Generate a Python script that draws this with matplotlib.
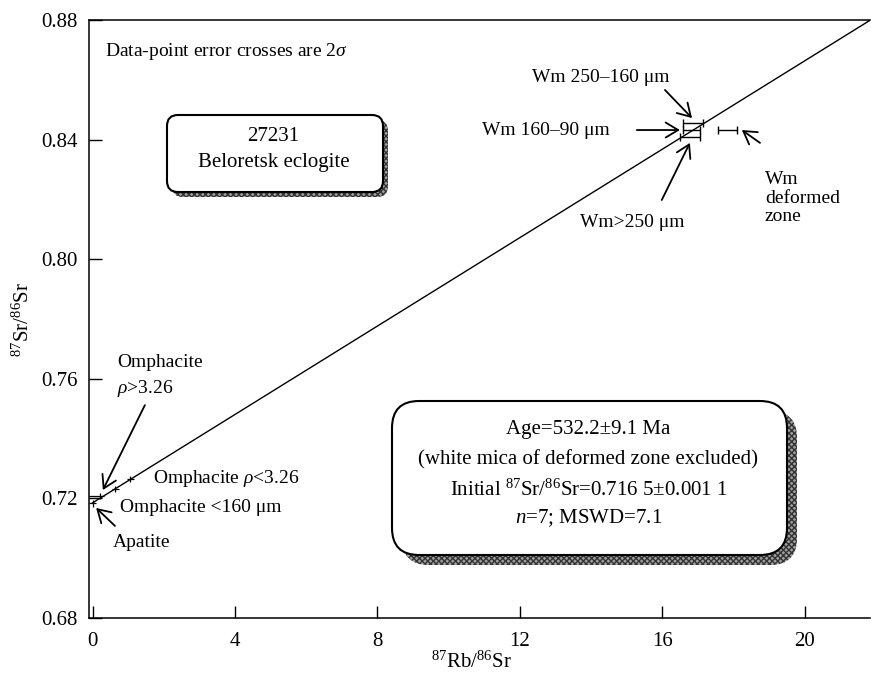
import numpy as np
import matplotlib
matplotlib.use('Agg')
import matplotlib.pyplot as plt
from matplotlib.patches import FancyBboxPatch

plt.rcParams['font.family'] = ['Liberation Serif', 'DejaVu Serif']
plt.rcParams['mathtext.fontset'] = 'custom'
plt.rcParams['mathtext.rm'] = 'Liberation Serif'
plt.rcParams['mathtext.it'] = 'Liberation Serif:italic'

# === data ===
# low-Rb phases (apatite + omphacite), error crosses
low_names = ['Apatite', 'Omphacite <160 μm', 'Omphacite ρ>3.26', 'Omphacite ρ<3.26']
low_rb = [0.00, 0.22, 0.64, 1.06]
low_sr = [0.7183, 0.7208, 0.7231, 0.7265]
low_xerr_lo = [0.10, 0.32, 0.10, 0.10]
low_xerr_hi = [0.10, 0.10, 0.10, 0.10]
low_yerr = [0.0011, 0.0011, 0.0011, 0.0011]

# white mica fractions
wm_names = ['Wm>250 μm', 'Wm 160–90 μm', 'Wm 250–160 μm']
wm_rb = [16.78, 16.83, 16.87]
wm_sr = [0.8409, 0.8432, 0.8456]
wm_xerr = [0.28, 0.24, 0.28]

# white mica of deformed zone (excluded from the fit)
def_rb = [17.84]
def_sr = [0.8432]
def_xerr = [0.27]

# isochron as drawn
iso_intercept = 0.7185
iso_slope = 0.00739

x_ticks = [0, 4, 8, 12, 16, 20]
y_ticks = [0.68, 0.72, 0.76, 0.80, 0.84, 0.88]

FS = 15      # ticks, axis labels, boxes
FA = 14      # free annotations

fig = plt.figure(figsize=(8.71, 6.80), dpi=100)
ax = fig.add_axes([89/871, 62/680, 781/871, 598/680])

# isochron line
xl = np.array([0, 23])
ax.plot(xl, iso_intercept + iso_slope*xl, color='k', lw=1.0, zorder=2)

# data points
ax.errorbar(low_rb, low_sr, xerr=[low_xerr_lo, low_xerr_hi], yerr=low_yerr,
            fmt='none', ecolor='k', elinewidth=0.9, capsize=0, zorder=3)
ax.errorbar(wm_rb, wm_sr, xerr=wm_xerr, fmt='none', ecolor='k',
            elinewidth=1.0, capsize=3, capthick=1.0, zorder=3)
ax.errorbar(def_rb, def_sr, xerr=def_xerr, fmt='none', ecolor='k',
            elinewidth=1.0, capsize=3, capthick=1.0, zorder=3)

ax.set_xlim(-0.1, 21.84)
ax.set_ylim(0.68, 0.88)
ax.set_xticks(x_ticks)
ax.set_yticks(y_ticks)
ax.set_xticklabels([str(t) for t in x_ticks])
ax.set_yticklabels([f'{t:.2f}' for t in y_ticks])
ax.tick_params(axis='both', direction='in', length=9, width=1.0, labelsize=FS)
ax.tick_params(axis='x', pad=10)
ax.tick_params(axis='y', pad=8)
for s in ['left', 'bottom', 'top']:
    ax.spines[s].set_linewidth(1.1)
ax.spines['right'].set_visible(False)

ax.set_xlabel(r'$^{87}$Rb/$^{86}$Sr', fontsize=FS)
ax.set_ylabel(r'$^{87}$Sr/$^{86}$Sr', fontsize=FS)
ax.xaxis.set_label_coords(0.49, -0.057)
ax.yaxis.set_label_coords(-0.071, 0.5)

# --- annotations ---
ax.text(0.35, 0.8693, r'Data-point error crosses are 2$\mathit{σ}$', fontsize=FA,
        ha='left', va='center')

arrow = dict(arrowstyle='->,head_length=0.5,head_width=0.3', lw=1.3, color='k',
             shrinkA=0, shrinkB=0, mutation_scale=18)

ax.text(16.22, 0.8609, 'Wm 250–160 μm', fontsize=FA, ha='right', va='center')
ax.annotate('', xy=(16.84, 0.8472), xytext=(16.08, 0.8566), arrowprops=arrow)
ax.text(14.54, 0.8432, 'Wm 160–90 μm', fontsize=FA, ha='right', va='center')
ax.annotate('', xy=(16.50, 0.8432), xytext=(15.29, 0.8432), arrowprops=arrow)
ax.text(13.69, 0.8124, 'Wm>250 μm', fontsize=FA, ha='left', va='center')
ax.annotate('', xy=(16.78, 0.8389), xytext=(15.99, 0.8198), arrowprops=arrow)
ax.text(18.89, 0.8204, 'Wm\ndeformed\nzone', fontsize=FA, ha='left', va='center',
        linespacing=1.1)
ax.annotate('', xy=(18.24, 0.8432), xytext=(18.75, 0.8389), arrowprops=arrow)

ax.text(0.69, 0.7653, 'Omphacite', fontsize=FA, ha='left', va='center')
ax.text(0.69, 0.7569, r'$\mathit{ρ}$>3.26', fontsize=FA, ha='left', va='center')
ax.annotate('', xy=(0.29, 0.7228), xytext=(1.47, 0.7512), arrowprops=arrow)
ax.text(1.70, 0.7268, r'Omphacite $\mathit{ρ}$<3.26', fontsize=FA, ha='left', va='center')
ax.text(0.77, 0.7168, 'Omphacite <160 μm', fontsize=FA, ha='left', va='center')
ax.text(0.58, 0.7054, 'Apatite', fontsize=FA, ha='left', va='center')
ax.annotate('', xy=(0.10, 0.7168), xytext=(0.63, 0.7108), arrowprops=arrow)

# --- rounded boxes with shaded drop shadow (inches on the figure) ---
def shadow_box(x0, y0, w, h, r, off):
    sh = FancyBboxPatch((x0 + off, y0 - off), w, h,
                        boxstyle=f'round,pad=0,rounding_size={r}',
                        transform=fig.dpi_scale_trans, facecolor='#a0a0a0',
                        edgecolor='#333333', hatch='xxxxxx', lw=0,
                        clip_on=False, zorder=4)
    ax.add_artist(sh)
    bx = FancyBboxPatch((x0, y0), w, h,
                        boxstyle=f'round,pad=0,rounding_size={r}',
                        transform=fig.dpi_scale_trans, facecolor='white',
                        edgecolor='k', lw=1.5, clip_on=False, zorder=5)
    ax.add_artist(bx)

shadow_box(1.67, 4.88, 2.16, 0.77, 0.11, 0.05)
shadow_box(3.92, 1.25, 3.95, 1.54, 0.27, 0.10)

ax.text(5.08, 0.8409, '27231', fontsize=FS, ha='center', va='center', zorder=6)
ax.text(5.08, 0.8322, 'Beloretsk eclogite', fontsize=FS, ha='center', va='center', zorder=6)

ax.text(13.93, 0.7429, 'Age=532.2±9.1 Ma', fontsize=FS, ha='center', va='center', zorder=6)
ax.text(13.93, 0.7328, '(white mica of deformed zone excluded)', fontsize=FS,
        ha='center', va='center', zorder=6)
ax.text(13.93, 0.7228, r'Initial $^{87}$Sr/$^{86}$Sr=0.716 5±0.001 1', fontsize=FS,
        ha='center', va='center', zorder=6)
ax.text(13.93, 0.7134, r'$\mathit{n}$=7; MSWD=7.1', fontsize=FS, ha='center',
        va='center', zorder=6)

plt.savefig('out.png', dpi=100)
plt.close(fig)
